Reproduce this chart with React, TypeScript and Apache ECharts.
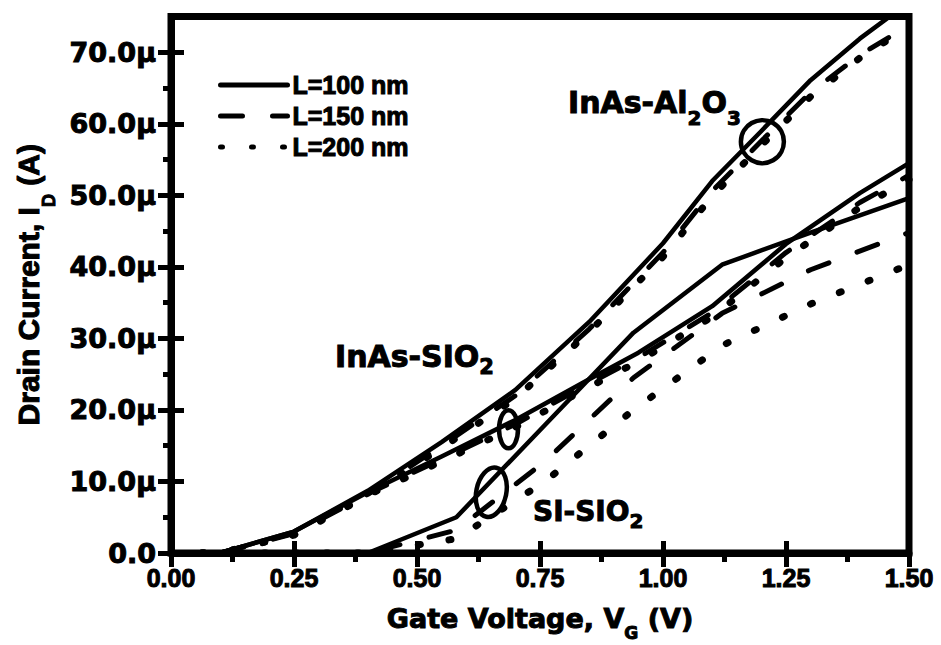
import React, { useEffect, useRef } from 'react';
import * as echarts from 'echarts';

// Gate voltage samples (V)
const VG_INAS_AL2O3 = [0, 0.1, 0.25, 0.4, 0.55, 0.7, 0.85, 1.0, 1.1, 1.2, 1.3, 1.4, 1.5];
const VG_INAS_SIO2 = [0, 0.1, 0.25, 0.4, 0.55, 0.7, 0.85, 0.95, 1.1, 1.25, 1.4, 1.5];
const VG_SI_SIO2 = [0, 0.4, 0.58, 0.76, 0.94, 1.12, 1.3, 1.5];

// Drain current (µA)
const INAS_AL2O3_L100 = [0, 0, 3.0, 8.7, 15.5, 22.8, 32.3, 43.3, 52.0, 59.0, 66.1, 71.9, 77.0];
const INAS_AL2O3_L150 = [0, 0, 2.7, 8.2, 15.0, 22.0, 31.3, 42.0, 50.6, 57.6, 64.4, 69.6, 73.8];
const INAS_AL2O3_L200 = [0, 0, 2.5, 8.0, 14.7, 21.6, 30.9, 41.4, 49.9, 57.0, 63.8, 69.2, 73.6];

const INAS_SIO2_L100 = [0, 0, 3.0, 8.5, 13.5, 18.6, 24.3, 28.0, 34.5, 43.2, 50.3, 54.5];
const INAS_SIO2_L150 = [0, 0, 2.8, 8.3, 13.1, 18.0, 23.7, 27.3, 33.6, 42.0, 49.0, 52.8];
const INAS_SIO2_L200 = [0, 0, 2.6, 8.1, 12.8, 17.6, 23.2, 26.8, 33.0, 41.3, 48.3, 52.2];

const SI_SIO2_L100 = [0, 0, 5.0, 17.9, 30.8, 40.3, 44.8, 49.6];
const SI_SIO2_L150 = [0, 0, 3.2, 12.8, 24.5, 33.5, 39.6, 44.8];
const SI_SIO2_L200 = [0, 0, 2.0, 10.0, 20.0, 29.0, 34.8, 40.3];

const LEGEND_NAMES = ['L=100 nm', 'L=150 nm', 'L=200 nm'];
const Y_MAJOR = [0, 10, 20, 30, 40, 50, 60, 70];
const Y_MINOR = [5, 15, 25, 35, 45, 55, 65];

const ARIAL = 'Liberation Sans, Arial, sans-serif';
const DEJAVU = 'DejaVu Sans, sans-serif';
const BORDER = { textBorderColor: '#000', textBorderWidth: 1 };

const LINE_STYLES: any[] = [
  { width: 4.5, color: '#000', type: 'solid', cap: 'round', join: 'round' },
  { width: 5, color: '#000', type: [22, 30], cap: 'round', join: 'round' },
  { width: 7, color: '#000', type: [2, 29], cap: 'round', join: 'round' },
];

function mk(name: string, xs: number[], ys: number[], styleIdx: number) {
  return {
    type: 'line',
    name,
    data: xs.map((x, i) => [x, ys[i]]),
    symbol: 'none',
    clip: true,
    silent: true,
    lineStyle: LINE_STYLES[styleIdx],
    itemStyle: { color: '#000' },
  };
}

// rich styles for axis names (ECharts-level names)
function subRich(font: string, F: number, S: number, P: number) {
  return {
    a: { fontFamily: font, fontWeight: 'bold', fontSize: F, lineHeight: F, color: '#000', ...BORDER },
    s: {
      fontFamily: font,
      fontWeight: 'bold',
      fontSize: S,
      lineHeight: S,
      padding: [P, 0, 0, 0],
      color: '#000',
      ...BORDER,
    },
  };
}

// rich styles for graphic texts (zrender-level names)
function gRich(font: string, F: number, S: number, P: number) {
  const base = { fontFamily: font, fontWeight: 'bold', fill: '#000', stroke: '#000', lineWidth: 1 };
  return {
    a: { ...base, fontSize: F, lineHeight: F },
    s: { ...base, fontSize: S, lineHeight: S, padding: [P, 0, 0, 0] },
  };
}

export default function App() {
  const ref = useRef<HTMLDivElement>(null);
  useEffect(() => {
    const el = ref.current!;
    const chart = echarts.init(el, null, { renderer: 'svg' });
    const series = [
      mk(LEGEND_NAMES[0], VG_INAS_AL2O3, INAS_AL2O3_L100, 0),
      mk(LEGEND_NAMES[1], VG_INAS_AL2O3, INAS_AL2O3_L150, 1),
      mk(LEGEND_NAMES[2], VG_INAS_AL2O3, INAS_AL2O3_L200, 2),
      mk(LEGEND_NAMES[0], VG_INAS_SIO2, INAS_SIO2_L100, 0),
      mk(LEGEND_NAMES[1], VG_INAS_SIO2, INAS_SIO2_L150, 1),
      mk(LEGEND_NAMES[2], VG_INAS_SIO2, INAS_SIO2_L200, 2),
      mk(LEGEND_NAMES[0], VG_SI_SIO2, SI_SIO2_L100, 0),
      mk(LEGEND_NAMES[1], VG_SI_SIO2, SI_SIO2_L150, 1),
      mk(LEGEND_NAMES[2], VG_SI_SIO2, SI_SIO2_L200, 2),
    ];
    const hiddenAxisBits = {
      axisLine: { show: false },
      axisLabel: { show: false },
      splitLine: { show: false },
    };
    const tickStyle = { color: '#000', width: 5 };
    chart.setOption({
      animation: false,
      backgroundColor: '#fff',
      grid: {
        left: 171,
        right: 32,
        top: 16.5,
        bottom: 92,
        show: true,
        borderColor: '#000',
        borderWidth: 7,
        backgroundColor: 'transparent',
        outerBoundsMode: 'none',
        containLabel: false,
      },
      legend: {
        data: LEGEND_NAMES,
        orient: 'vertical',
        left: 213,
        top: 67,
        itemWidth: 67,
        itemHeight: 14,
        itemGap: 5,
        selectedMode: false,
        itemStyle: { opacity: 0 },
        lineStyle: { width: 5, color: '#000' },
        textStyle: {
          fontFamily: ARIAL,
          fontWeight: 'bold',
          fontSize: 25,
          lineHeight: 26,
          color: '#000',
          ...BORDER,
        },
      },
      xAxis: [
        {
          type: 'value',
          min: 0,
          max: 1.5,
          interval: 0.25,
          position: 'bottom',
          axisLine: { show: true, lineStyle: { color: '#000', width: 7 } },
          axisTick: { show: true, inside: false, length: 14, lineStyle: tickStyle },
          minorTick: { show: true, splitNumber: 2, length: 9, lineStyle: tickStyle },
          splitLine: { show: false },
          minorSplitLine: { show: false },
          axisLabel: {
            color: '#000',
            fontFamily: ARIAL,
            fontWeight: 'bold',
            fontSize: 25,
            margin: 12,
            ...BORDER,
            formatter: (v: number) => v.toFixed(2),
          },
          name: '{a|Gate Voltage, V}{s|G}{a| (V)}',
          nameLocation: 'middle',
          nameGap: 49,
          nameTextStyle: { rich: subRich(DEJAVU, 27, 17, 29) },
        },
        {
          type: 'value',
          min: 0,
          max: 1.5,
          interval: 0.25,
          position: 'bottom',
          ...hiddenAxisBits,
          axisTick: { show: true, inside: true, length: 12, lineStyle: tickStyle },
        },
      ],
      yAxis: [
        {
          type: 'value',
          min: 0,
          max: 75,
          interval: 5,
          position: 'left',
          axisLine: { show: true, lineStyle: { color: '#000', width: 7 } },
          axisTick: { show: true, inside: false, length: 13, lineStyle: tickStyle, customValues: Y_MAJOR },
          splitLine: { show: false },
          axisLabel: {
            color: '#000',
            fontFamily: DEJAVU,
            fontWeight: 'bold',
            fontSize: 27,
            margin: 15,
            ...BORDER,
            customValues: Y_MAJOR,
            formatter: (v: number) => (v === 0 ? '0.0' : `${v.toFixed(1)}μ`),
          },
          name: '{a|Drain Current, I}{s|D}{a| (A)}',
          nameLocation: 'middle',
          nameGap: 116,
          nameTextStyle: { rich: subRich(ARIAL, 30, 18, 40) },
        },
        {
          type: 'value',
          min: 0,
          max: 75,
          interval: 5,
          position: 'left',
          ...hiddenAxisBits,
          axisTick: { show: true, inside: false, length: 8, lineStyle: tickStyle, customValues: Y_MINOR },
        },
        {
          type: 'value',
          min: 0,
          max: 75,
          interval: 5,
          position: 'left',
          ...hiddenAxisBits,
          axisTick: { show: true, inside: true, length: 13, lineStyle: tickStyle, customValues: Y_MAJOR },
        },
      ],
      series,
    });

    const px = (x: number, y: number) =>
      chart.convertToPixel({ xAxisIndex: 0, yAxisIndex: 0 }, [x, y]) as number[];
    const c1 = px(1.202, 57.5);
    const c2 = px(0.686, 17.3);
    const c3 = px(0.651, 8.5);
    const ring = { fill: 'none', stroke: '#000', lineWidth: 4.5 };
    chart.setOption({
      graphic: [
        { type: 'circle', shape: { cx: c1[0], cy: c1[1], r: 21.5 }, style: ring, z: 100 },
        { type: 'ellipse', shape: { cx: c2[0], cy: c2[1], rx: 9.5, ry: 19 }, style: ring, z: 100 },
        {
          type: 'ellipse',
          x: c3[0],
          y: c3[1],
          rotation: -0.2,
          shape: { cx: 0, cy: 0, rx: 15, ry: 25 },
          style: ring,
          z: 100,
        },
        {
          type: 'text',
          x: 568,
          y: 87,
          z: 100,
          style: {
            text: '{a|InAs-Al}{s|2}{a|O}{s|3}',
            rich: gRich(DEJAVU, 30, 20, 32),
            verticalAlign: 'top',
          },
        },
        {
          type: 'text',
          x: 335,
          y: 341,
          z: 100,
          style: {
            text: '{a|InAs-SIO}{s|2}',
            rich: gRich(DEJAVU, 30, 21, 22),
            verticalAlign: 'top',
          },
        },
        {
          type: 'text',
          x: 533,
          y: 497,
          z: 100,
          style: {
            text: '{a|SI-SIO}{s|2}',
            rich: gRich(DEJAVU, 28, 20, 20),
            verticalAlign: 'top',
          },
        },
      ],
    });
    return () => chart.dispose();
  }, []);
  return (
    <div
      ref={ref}
      style={{ position: 'fixed', left: 0, top: 0, width: 941, height: 645, background: '#fff' }}
    />
  );
}
